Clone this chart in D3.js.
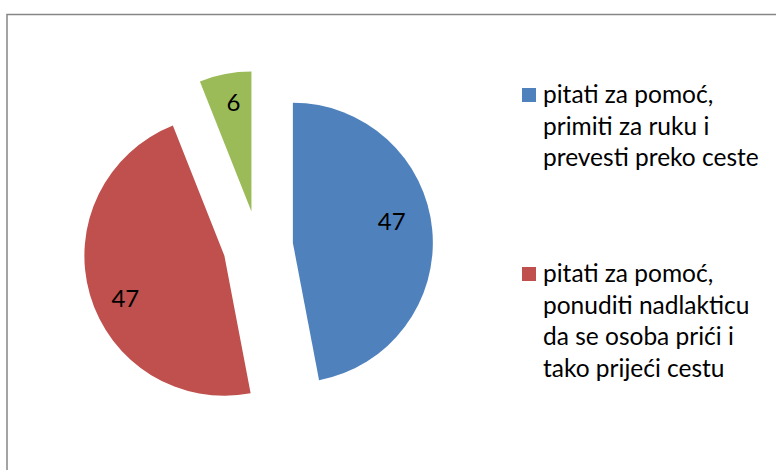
<!DOCTYPE html>
<html>
<head>
<meta charset="utf-8">
<script src="https://cdn.jsdelivr.net/npm/d3@7"></script>
<style>
  body { margin: 0; background: #fff; }
  text { font-family: Lato, "Open Sans", sans-serif; }
</style>
</head>
<body>
<div id="chart"></div>
<script>
// data
const values = [47, 47, 6];
const colors = ["#4f81bd", "#c0504d", "#9bbb59"];
const legendLines = [
  ["pitati za pomoć,", "primiti za ruku i", "prevesti preko ceste"],
  ["pitati za pomoć,", "ponuditi nadlakticu", "da se osoba prići i", "tako prijeći cestu"]
];

const width = 776, height = 470;
const cx = 258, cy = 246, radius = 140, explode = 35;
// label placement per slice: [distance from centre, angle shift in degrees]
const labelPos = [[101, -6.6], [108, -7.3], [111, 1.5]];

const svg = d3.select("#chart")
  .append("svg")
  .attr("width", width)
  .attr("height", height);

// chart frame (runs off the right and bottom edge)
svg.append("rect")
  .attr("x", 7)
  .attr("y", 14.5)
  .attr("width", 800)
  .attr("height", 500)
  .attr("fill", "#fff")
  .attr("stroke", "#868686")
  .attr("stroke-width", 1.5);

const pie = d3.pie().sort(null).value(d => d);
const arcs = pie(values);
const arc = d3.arc().innerRadius(0).outerRadius(radius);

const g = svg.append("g").attr("transform", `translate(${cx}, ${cy})`);

const slice = g.selectAll("g.slice")
  .data(arcs)
  .join("g")
  .attr("class", "slice")
  .attr("transform", function (d) {
    const a = (d.startAngle + d.endAngle) / 2;
    return `translate(${explode * Math.sin(a)}, ${-explode * Math.cos(a)})`;
  });

slice.append("path")
  .attr("d", arc)
  .attr("fill", (d, i) => colors[i]);

slice.append("text")
  .attr("transform", function (d, i) {
    const a = (d.startAngle + d.endAngle) / 2 + labelPos[i][1] * Math.PI / 180;
    const r = labelPos[i][0];
    return `translate(${r * Math.sin(a)}, ${-r * Math.cos(a)})`;
  })
  .attr("text-anchor", "middle")
  .attr("dy", "0.36em")
  .style("font-size", "24px")
  .attr("fill", "#000")
  .text(d => d.data);

// legend
const legend = svg.append("g").attr("transform", "translate(522, 88)");
const entryY = [0, 179];
legendLines.forEach(function (lines, i) {
  const e = legend.append("g").attr("transform", `translate(0, ${entryY[i]})`);
  e.append("rect")
    .attr("x", 0)
    .attr("y", 0)
    .attr("width", 14)
    .attr("height", 14)
    .attr("fill", colors[i]);
  e.selectAll("text")
    .data(lines)
    .join("text")
    .attr("x", 21)
    .attr("y", (d, j) => 15 + j * 31.5)
    .style("font-size", "24.5px")
    .attr("fill", "#000")
    .text(d => d);
});
</script>
</body>
</html>
